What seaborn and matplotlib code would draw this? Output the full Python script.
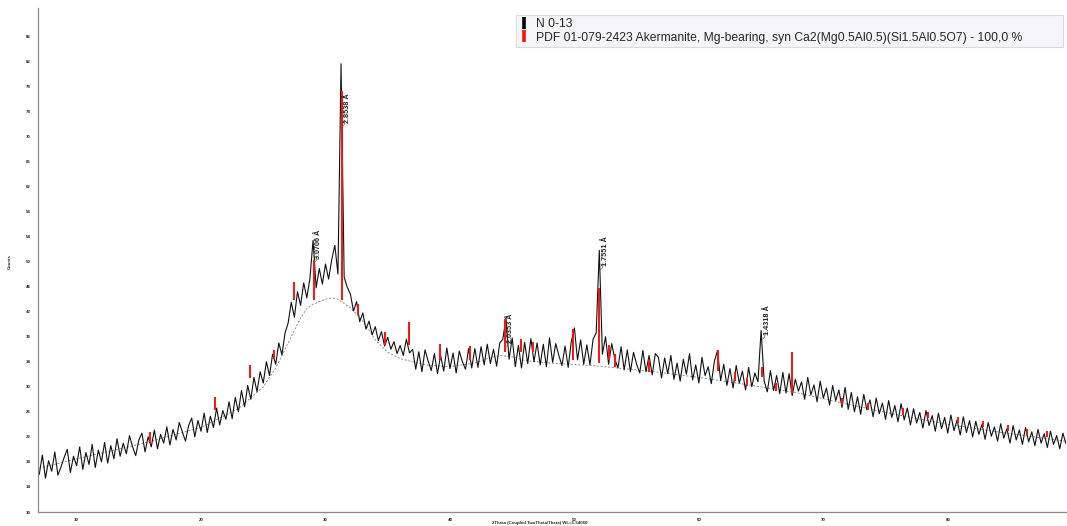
import numpy as np
import pandas as pd
import matplotlib
matplotlib.use("Agg")
import matplotlib.pyplot as plt
from matplotlib.lines import Line2D
from matplotlib.ticker import MultipleLocator
import seaborn as sns

# ---- measured pattern (Cu K-alpha), 0.25 deg steps from 7.0 to 89.5 deg 2theta ----
wavelength = 1.54060
start_2theta = 7.0
step_2theta = 0.25
counts = [
    # 7.00 - 11.75
    16.0, 19.1, 15.4, 18.2, 16.5, 19.6, 15.9, 17.2, 18.7, 20.0, 16.3, 18.9, 17.4, 20.4, 16.8, 19.5, 17.6, 20.8, 17.1, 19.9,
    # 12.00 - 16.75
    18.0, 21.1, 17.8, 20.6, 18.5, 21.7, 18.9, 21.0, 19.3, 22.2, 20.4, 19.0, 21.5, 22.6, 19.6, 22.0, 20.4, 23.1, 20.1, 22.4,
    # 17.00 - 21.75
    21.0, 23.6, 20.7, 23.2, 21.5, 24.3, 22.8, 21.3, 23.8, 25.0, 22.0, 24.6, 22.9, 25.8, 22.7, 25.3, 23.5, 26.6, 23.9, 26.2,
    # 22.00 - 26.75
    24.8, 27.6, 24.9, 28.3, 26.0, 29.4, 26.8, 30.2, 28.0, 31.5, 29.2, 32.4, 30.6, 34.0, 31.8, 35.2, 33.6, 37.0, 35.1, 38.6,
    # 27.00 - 31.75
    40.2, 43.5, 41.1, 45.2, 43.0, 46.6, 44.2, 47.3, 53.4, 45.8, 48.9, 46.4, 49.6, 47.2, 50.3, 52.6, 48.0, 81.6, 47.5, 45.9,
    # 32.00 - 36.75
    44.8, 42.1, 43.6, 40.4, 41.8, 39.2, 40.5, 38.3, 39.6, 37.4, 38.8, 36.5, 37.9, 36.0, 37.2, 35.3, 36.6, 35.0, 37.6, 35.4,
    # 37.00 - 41.75
    36.0, 32.8, 35.6, 32.4, 35.9, 34.1, 32.6, 35.3, 32.1, 35.0, 32.5, 36.2, 32.9, 35.4, 32.2, 35.7, 34.0, 32.8, 36.1, 33.0,
    # 42.00 - 46.75
    36.1, 33.1, 36.4, 33.5, 36.8, 33.7, 36.0, 33.3, 37.0, 37.6, 41.0, 34.4, 37.8, 33.2, 36.6, 33.0, 37.1, 33.7, 37.7, 34.0,
    # 47.00 - 51.75
    37.0, 33.5, 36.8, 33.2, 37.8, 33.9, 36.9, 35.0, 33.4, 36.5, 33.1, 37.2, 39.4, 34.3, 37.5, 33.6, 36.7, 33.5, 37.6, 38.6,
    # 52.00 - 56.75
    51.8, 35.2, 38.0, 33.6, 36.9, 34.4, 33.0, 36.4, 32.7, 35.9, 32.4, 35.5, 33.6, 32.2, 35.8, 32.4, 35.0, 31.9, 35.3, 34.7,
    # 57.00 - 61.75
    31.4, 34.6, 32.1, 35.0, 31.2, 33.8, 30.9, 34.4, 32.0, 35.3, 31.1, 33.5, 30.6, 34.7, 31.8, 33.2, 30.5, 34.1, 35.8, 31.0,
    # 62.00 - 66.75
    33.6, 30.2, 32.9, 29.8, 33.4, 30.6, 32.5, 29.5, 33.1, 30.0, 32.2, 30.8, 39.0, 30.9, 29.2, 32.6, 29.4, 31.8, 28.9, 32.3,
    # 67.00 - 71.75
    29.0, 32.1, 28.6, 31.2, 29.3, 30.8, 28.0, 31.5, 28.7, 30.3, 27.6, 30.9, 28.2, 29.8, 27.1, 30.2, 27.8, 29.5, 26.7, 29.9,
    # 72.00 - 76.75
    26.4, 29.1, 26.0, 28.4, 25.6, 28.8, 26.3, 27.9, 25.2, 28.2, 25.7, 27.4, 24.8, 27.8, 25.1, 27.0, 24.4, 27.3, 24.7, 26.6,
    # 77.00 - 81.75
    23.9, 26.5, 24.2, 25.9, 23.4, 26.2, 23.8, 25.4, 22.9, 25.8, 23.3, 25.1, 22.6, 25.5, 23.0, 24.7, 22.3, 25.2, 22.7, 24.6,
    # 82.00 - 86.75
    22.0, 24.5, 22.4, 24.0, 21.6, 24.3, 22.1, 23.6, 21.3, 24.1, 21.8, 23.3, 21.0, 23.8, 21.5, 23.1, 20.8, 23.5, 21.2, 22.8,
    # 87.00 - 89.50
    20.6, 23.2, 21.0, 22.5, 20.3, 22.9, 20.8, 22.2, 20.1, 22.6, 20.9,
]
two_theta = start_2theta + step_2theta * np.arange(len(counts))

# ---- fitted background ----
bg_2theta = [7, 10, 15, 20, 23, 25, 26, 27, 28, 28.5, 29, 30, 30.5, 31, 32, 33, 34, 35, 36,
             38, 40, 42, 43, 44, 45, 46, 48, 52, 56, 60, 64, 68, 72, 76, 80, 84, 89.5]
bg_counts = [17, 18.5, 20.8, 23.5, 26.5, 30, 33, 37, 41, 42.5, 43.2, 44, 44.2, 44, 42.6, 40.5, 37.5, 35.5, 34.5,
             33.5, 33.2, 33.8, 34.5, 35, 34.8, 34.2, 33.8, 33.3, 32.5, 31.5, 30.3, 29, 27.2, 25.5, 24, 22.8, 21.3]

# ---- reference pattern sticks: PDF 01-079-2423 ----
stick_2theta = [15.9, 21.1, 23.9, 25.9, 27.5, 29.06, 31.32, 32.6, 34.8, 36.7, 39.2, 41.6, 44.45, 45.7, 46.7,
                49.9, 52.0, 52.8, 53.3, 56.0, 61.5, 62.9, 63.9, 65.1, 66.2, 67.5, 71.5, 73.6, 76.4, 78.4,
                80.8, 82.8, 84.8, 86.4, 88.0]
stick_low = [21.0, 26.3, 31.4, 34.5, 43.8, 43.8, 43.8, 41.4, 36.6, 36.6, 34.2, 34.2, 35.5, 35.5, 35.5,
             34.2, 33.8, 34.2, 33.1, 32.3, 32.6, 31.0, 30.2, 31.5, 29.4, 29.0, 27.1, 26.3, 25.5, 25.0,
             24.2, 23.5, 22.9, 22.3, 22.0]
stick_high = [22.8, 28.3, 33.4, 35.8, 46.7, 50.2, 77.3, 43.3, 38.7, 40.3, 36.9, 36.5, 40.9, 37.7, 37.1,
              39.3, 45.7, 36.6, 35.3, 34.2, 35.8, 32.3, 31.4, 33.1, 30.6, 35.5, 28.2, 27.4, 26.6, 25.9,
              25.1, 24.5, 23.9, 23.2, 22.9]

# ---- labelled d-spacings (Angstrom) ----
peak_d = [3.0706, 2.8538, 2.0353, 1.7551, 1.4318]

y_ticks = list(range(10, 87, 4))
x_ticks = list(range(10, 81, 10))

sample_name = "N 0-13"
phase_name = "PDF 01-079-2423 Akermanite, Mg-bearing, syn Ca2(Mg0.5Al0.5)(Si1.5Al0.5O7) - 100,0 %"

# ---------------------------------------------------------------------------
sns.set_style("white")
plt.rcParams["font.family"] = ["Liberation Sans", "DejaVu Sans"]

fig = plt.figure(figsize=(10.67, 5.26), dpi=100)
ax = fig.add_axes([38 / 1067, 14 / 526, 1028 / 1067, 504 / 526])

df = pd.DataFrame({"two_theta": two_theta, "counts": counts})
ax.plot(bg_2theta, bg_counts, color="#808080", lw=0.6, ls=(0, (2.5, 2)), zorder=1)
sns.lineplot(data=df, x="two_theta", y="counts", ax=ax, color="#111111",
             lw=0.8, estimator=None, sort=False, zorder=2)
ax.vlines(stick_2theta, stick_low, stick_high, colors="#ff1010", lw=1.4, zorder=3)

# d-spacing labels beside the strongest reflections, hooked onto the peak line
label_drop = [3.0, 9.5, 4.0, 2.5, 0.8]
for d, drop in zip(peak_d, label_drop):
    pos = 2 * np.degrees(np.arcsin(wavelength / (2 * d)))
    near = np.abs(two_theta - pos) <= 0.3
    top = max(np.asarray(counts)[near])
    base = top - drop
    ax.plot([pos + 0.02, pos + 0.18, pos + 0.22, pos + 0.22],
            [base - 0.6, base - 0.3, base, base + 0.5], color="#555555", lw=0.45, zorder=4)
    ax.text(pos + 0.42, base, f"{d:.4f} Å", rotation=90, ha="center", va="bottom",
            fontsize=5.2, fontweight="bold", color="#222222", zorder=4)

ax.set_xlim(6.9, 89.5)
ax.set_ylim(10, 90.5)
ax.set_xticks(x_ticks)
ax.set_yticks(y_ticks)
ax.xaxis.set_minor_locator(MultipleLocator(1))
ax.yaxis.set_minor_locator(MultipleLocator(0.8))
ax.tick_params(axis="both", which="major", labelsize=3.2, color="#888888", width=0.6, pad=2.5)
ax.tick_params(axis="x", which="major", direction="inout", length=3.5)
ax.tick_params(axis="y", which="major", direction="out", length=3)
ax.tick_params(axis="both", which="minor", color="#999999", width=0.4, length=1.6)
for lab in ax.get_xticklabels() + ax.get_yticklabels():
    lab.set_fontweight("bold")
ax.set_xlabel("")
ax.set_ylabel("")
for side in ("top", "right"):
    ax.spines[side].set_visible(False)
for side in ("left", "bottom"):
    ax.spines[side].set_color("#8a8a8a")
    ax.spines[side].set_linewidth(0.9)

fig.text(540 / 1067, 1 - 523 / 526, "2Theta (Coupled TwoTheta/Theta) WL=1.54060",
         ha="center", va="center", fontsize=3.2, fontweight="bold")
fig.text(10 / 1067, 1 - 262 / 526, "Counts", rotation=90, ha="center", va="center",
         fontsize=3.2, fontweight="bold")

handles = [
    Line2D([], [], color="black", marker="|", linestyle="None", markersize=8, markeredgewidth=2.6),
    Line2D([], [], color="#ff1010", marker="|", linestyle="None", markersize=8, markeredgewidth=2.6),
]
leg = fig.legend(handles, [sample_name, phase_name], loc="upper left",
                 bbox_to_anchor=(516 / 1067, 1 - 49 / 526, 547 / 1067, 34 / 526),
                 mode="expand", borderaxespad=0, fontsize=8.75, frameon=True, fancybox=False,
                 handlelength=0.8, handletextpad=0.6, labelspacing=0.1, borderpad=0.28)
leg.get_frame().set_facecolor("#f3f3f7")
leg.get_frame().set_edgecolor("#d2d3dc")
leg.get_frame().set_linewidth(0.8)

fig.savefig("out.png", dpi=100)
